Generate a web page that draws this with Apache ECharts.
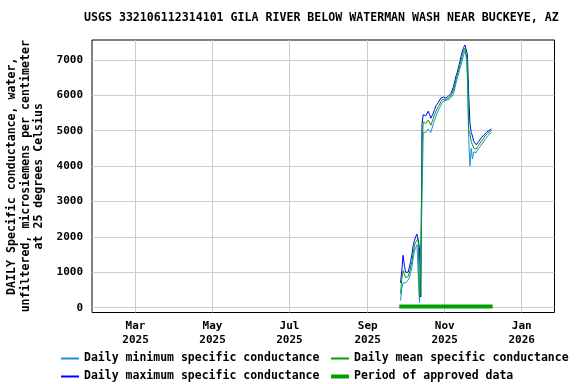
<!DOCTYPE html>
<html><head><meta charset="utf-8">
<script src="https://cdn.jsdelivr.net/npm/echarts@6/dist/echarts.min.js"></script>
<style>html,body{margin:0;padding:0;background:#fff}#c{width:576px;height:384px}</style>
</head><body><div id="c"></div>
<script>
const titleText = 'USGS 332106112314101 GILA RIVER BELOW WATERMAN WASH NEAR BUCKEYE, AZ';
const yAxisName = 'DAILY Specific conductance, water,\nunfiltered, microsiemens per centimeter\nat 25 degrees Celsius';
const seriesNames = ['Daily minimum specific conductance','Daily mean specific conductance','Daily maximum specific conductance','Period of approved data'];
const firstDay = '2025-09-27';
const maxVals = [700,1050,1480,1200,1000,950,1000,1150,1300,1500,1750,1900,2000,2080,2100,1700,300,
  5200,5450,5500,5420,5400,5550,5450,5350,5400,5500,5600,5700,5750,5800,5850,5920,5950,
  5950,5930,5920,5950,5980,6000,6050,6150,6250,6400,6550,6650,6800,6950,7100,7250,7350,7420,7400,
  7150,6000,5200,4950,4850,4700,4650,4600,4650,4700,4750,4800,4850,4880,4920,4950,4980,5000,5020,5050];
const meanVals = [400,800,1050,950,850,800,880,980,1150,1300,1550,1750,1850,1900,1950,300,400,
  4600,5250,5300,5200,5150,5300,5250,5150,5250,5350,5450,5550,5600,5680,5750,5820,5880,
  5900,5880,5880,5900,5920,5950,5980,6050,6150,6300,6450,6580,6700,6850,6980,7150,7250,7330,7300,
  7000,5000,4900,4700,4600,4500,4500,4480,4550,4600,4650,4700,4750,4800,4850,4880,4920,4950,4980,5000];
const minVals = [200,550,700,720,700,680,780,850,1000,1150,1400,1600,1700,1780,1800,150,200,
  3000,4950,5000,4950,4950,5050,5000,4950,5000,5200,5300,5400,5500,5550,5650,5720,5800,
  5850,5850,5850,5860,5880,5900,5930,5980,6050,6200,6350,6480,6600,6750,6850,7000,7150,7250,7100,
  6500,4800,4000,4500,4200,4400,4400,4380,4450,4500,4550,4600,4650,4700,4750,4800,4850,4880,4920,4950];
const approvedDates = ['2025-09-26','2025-12-09'];
const approvedLevel = 30;
const xTickDates = ['2025-03-01','2025-05-01','2025-07-01','2025-09-01','2025-11-01','2026-01-01'];
const xTickLabels = ['Mar\n2025','May\n2025','Jul\n2025','Sep\n2025','Nov\n2025','Jan\n2026'];
const yTicks = [0,1000,2000,3000,4000,5000,6000,7000];
const xRange = ['2025-01-25T12:00','2026-01-27'];
const yRange = [-136, 7560];

function t(s){ return new Date(s.length===10 ? s+'T00:00' : s).getTime(); }
const d0 = t(firstDay);
const days = maxVals.map((_, i) => { const d = new Date(d0); d.setDate(d.getDate()+i); return d.getTime(); });
const pair = arr => arr.map((v, i) => [days[i], v]);
const xTickTimes = xTickDates.map(t);

const FONT = 'DejaVu Sans Mono';
const colors = {min:'#1a8fdc', mean:'#00a000', max:'#0000ff', appr:'#00a000'};
const legTxt = {fontFamily: FONT, fontWeight:'bold', fontSize:11.5, color:'#000'};
const mkLeg = (name, left, top, h) => ({left, top, padding:0, itemWidth:18, itemHeight:h, icon:'rect', data:[name], textStyle:legTxt, itemGap:0});

const chart = echarts.init(document.getElementById('c'), null, {renderer:'canvas'});
chart.setOption({
  animation:false,
  backgroundColor:'#fff',
  title:{text:titleText, left:84, top:12, padding:0,
    textStyle:{fontFamily:FONT, fontWeight:'bold', fontSize:11.6, color:'#000'}},
  grid:{left:92, right:21.5, top:40, bottom:71.5, containLabel:false, outerBoundsMode:'none',
    show:true, borderColor:'#000', borderWidth:1, backgroundColor:'transparent'},
  legend:[
    mkLeg(seriesNames[0], 61, 352.5, 2),
    mkLeg(seriesNames[2], 61, 370.5, 2),
    mkLeg(seriesNames[1], 331, 352.5, 2),
    mkLeg(seriesNames[3], 331, 370.5, 4)
  ],
  xAxis:{type:'value', min:t(xRange[0]), max:t(xRange[1]),
    axisLine:{show:false}, axisTick:{show:false, customValues:xTickTimes},
    splitLine:{show:true, lineStyle:{color:'#cccccc', width:1}},
    axisLabel:{customValues:xTickTimes, margin:7, fontFamily:FONT, fontWeight:'bold', fontSize:11, color:'#000', lineHeight:14,
      formatter: v => { const i = xTickTimes.indexOf(v); return i>=0 ? xTickLabels[i] : ''; }}
  },
  yAxis:{type:'value', min:yRange[0], max:yRange[1],
    name:yAxisName, nameLocation:'middle', nameGap:45.5,
    nameTextStyle:{fontFamily:FONT, fontWeight:'bold', fontSize:11.6, color:'#000', lineHeight:13.3, align:'center'},
    axisLine:{show:false}, axisTick:{show:false, customValues:yTicks},
    splitLine:{show:true, lineStyle:{color:'#cccccc', width:1}},
    axisLabel:{customValues:yTicks, margin:9, fontFamily:FONT, fontWeight:'bold', fontSize:11, color:'#000',
      formatter: v => String(v)}
  },
  series:[
    {name:seriesNames[2], type:'line', data:pair(maxVals), showSymbol:false, lineStyle:{color:colors.max, width:1}, itemStyle:{color:colors.max}},
    {name:seriesNames[0], type:'line', data:pair(minVals), showSymbol:false, lineStyle:{color:colors.min, width:1}, itemStyle:{color:colors.min}},
    {name:seriesNames[1], type:'line', data:pair(meanVals), showSymbol:false, lineStyle:{color:colors.mean, width:1}, itemStyle:{color:colors.mean}},
    {name:seriesNames[3], type:'line', data:approvedDates.map(s=>[t(s), approvedLevel]), showSymbol:false, lineStyle:{color:colors.appr, width:4, cap:'butt'}, itemStyle:{color:colors.appr}}
  ]
});
</script></body></html>
